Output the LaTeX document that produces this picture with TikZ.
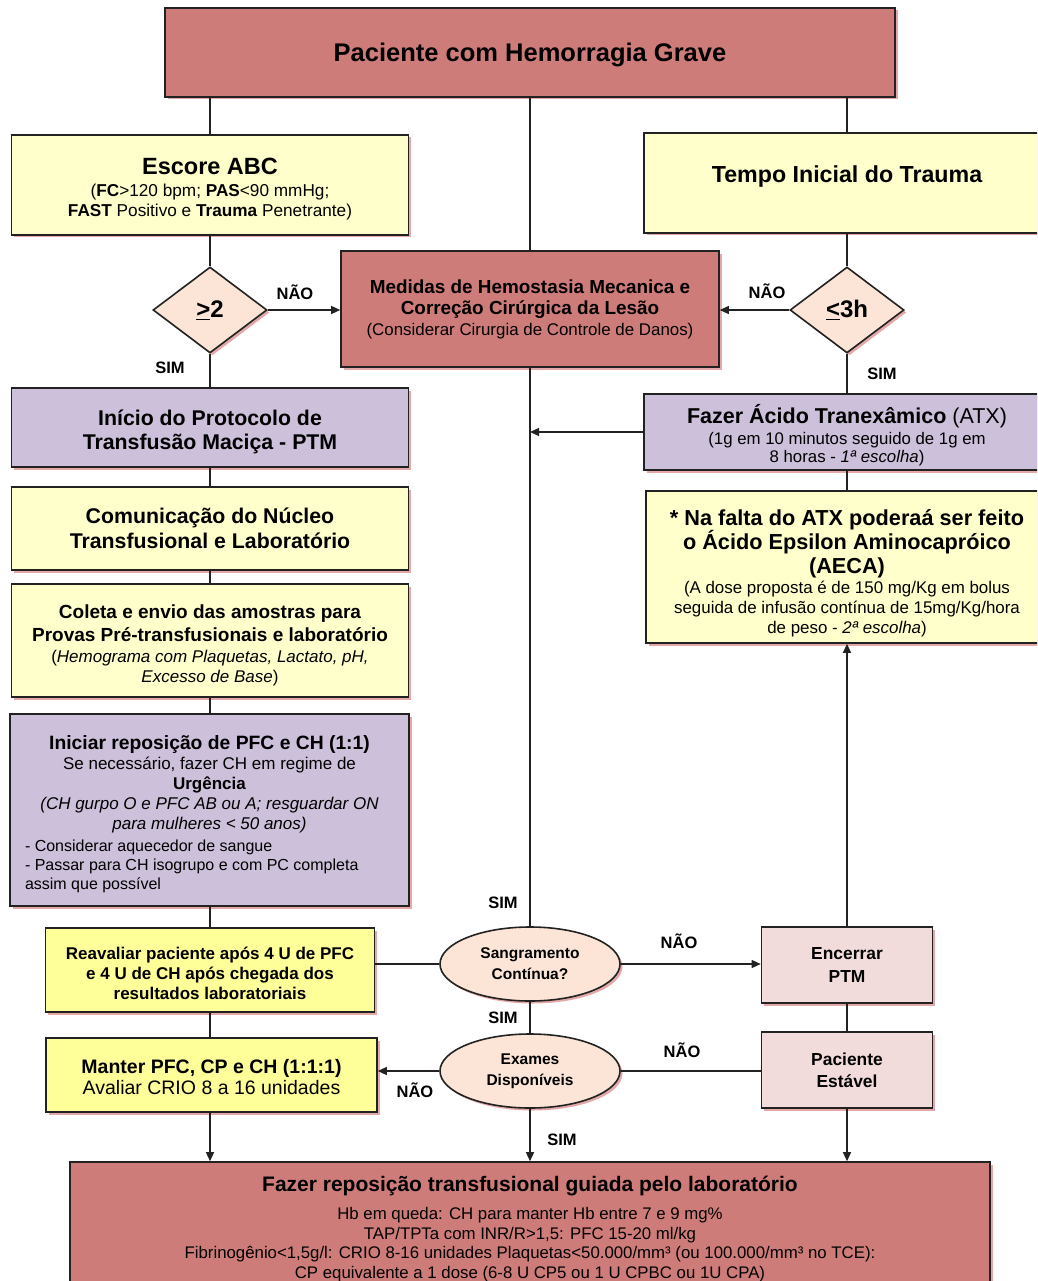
\documentclass[tikz,border=0pt]{standalone}
\usepackage{fontspec}
\setmainfont{Liberation Sans}
\usetikzlibrary{shapes.geometric,arrows.meta,shadows}
\definecolor{salmon}{RGB}{206,124,121}
\definecolor{lyellow}{RGB}{255,255,204}
\definecolor{lavender}{RGB}{204,192,218}
\definecolor{peach}{RGB}{252,229,214}
\definecolor{yellowb}{RGB}{255,255,153}
\definecolor{pinkl}{RGB}{242,220,219}
\definecolor{shadowc}{RGB}{228,168,168}
\definecolor{edge}{RGB}{34,34,34}
\newcommand\myfs[2]{\fontsize{#1}{#2}\selectfont}
\newcommand\topgap[1]{\par\vspace*{\dimexpr#1-12pt\relax}}
\begin{document}
\begin{tikzpicture}[x=1pt,y=-1pt,
  shad/.style={drop shadow={shadow xshift=2.5pt,shadow yshift=-2.5pt,fill=shadowc,opacity=1}},
  box/.style={draw=edge,line width=1.6pt,inner xsep=8pt,inner ysep=3pt,align=flush center,shad},
  dia/.style={diamond,draw=edge,line width=1.6pt,fill=peach,minimum width=114pt,minimum height=86pt,inner sep=0pt,shad},
  ell/.style={ellipse,draw=edge,line width=1.6pt,fill=peach,minimum width=180pt,minimum height=74pt,inner sep=0pt,align=center,font=\myfs{15.5}{21}\bfseries,shad},
  conn/.style={draw=edge,line width=1.3pt},
  arr/.style={conn,-{Triangle[length=9pt,width=8pt]}},
  lbl/.style={font=\myfs{16.5}{18}\bfseries}]
\useasboundingbox (0,0) rectangle (1037,1281);
\clip (0,0) rectangle (1037,1281);
\fill[white] (0,0) rectangle (1037,1281);
\lineskiplimit=-20pt

% top
\node[box,fill=salmon,minimum width=730pt,minimum height=89pt,text width=714pt] (top) at (530,52.5)
  {\topgap{5pt}\myfs{25.5}{30}\bfseries Paciente com Hemorragia Grave\par};

% left column
\node[box,fill=lyellow,minimum width=397pt,minimum height=100pt,text width=381pt] (escore) at (210,185)
  {\topgap{9pt}{\myfs{23.5}{27}\bfseries Escore ABC\par}\vspace{3pt}\myfs{17.2}{19.5}(\textbf{FC}>120 bpm; \textbf{PAS}<90 mmHg;\\ \textbf{FAST} Positivo e \textbf{Trauma} Penetrante)\par};
\node[dia] (d1) at (210,310) {\myfs{24}{28}\bfseries\underline{>}2};
\node[box,fill=lavender,minimum width=397pt,minimum height=79pt,text width=381pt] (inicio) at (210,427.5)
  {\topgap{12pt}\myfs{21.3}{24}\bfseries Início do Protocolo de\\ Transfusão Maciça - PTM\par};
\node[box,fill=lyellow,minimum width=397pt,minimum height=83pt,text width=381pt] (comunic) at (210,528.5)
  {\myfs{21.3}{25}\bfseries Comunicação do Núcleo\\ Transfusional e Laboratório\par};
\node[box,fill=lyellow,minimum width=397pt,minimum height=113pt,text width=381pt] (coleta) at (210,640.5)
  {\topgap{13pt}{\myfs{19}{23}\bfseries Coleta e envio das amostras para\\ Provas Pré-transfusionais e laboratório\par}\vspace{1pt}\myfs{17}{20}(\textit{Hemograma com Plaquetas, Lactato, pH,}\\ \textit{Excesso de Base})\par};
\node[box,fill=lavender,minimum width=399pt,minimum height=192pt,text width=369pt,inner xsep=15pt] (iniciar) at (209.5,810)
  {\topgap{14pt}{\myfs{19.3}{21}\bfseries Iniciar reposição de PFC e CH (1:1)\par}
   {\myfs{17}{20}Se necessário, fazer CH em regime de\\ \textbf{Urgência}\\ \textit{(CH gurpo O e PFC AB ou A; resguardar ON}\\ \textit{para mulheres < 50 anos)}\par}
   \vspace{3pt}
   {\raggedright\myfs{16}{19}- Considerar aquecedor de sangue\\ - Passar para CH isogrupo e com PC completa\\ assim que possível\par}};
\node[box,fill=yellowb,minimum width=329pt,minimum height=84pt,text width=313pt] (reaval) at (210,970)
  {\topgap{11pt}\myfs{17}{20}\bfseries Reavaliar paciente após 4 U de PFC\\ e 4 U de CH após chegada dos\\ resultados laboratoriais\par};
\node[box,fill=yellowb,minimum width=331pt,minimum height=74pt,text width=315pt] (manter) at (211.5,1075)
  {\topgap{9pt}\myfs{19.5}{21}\textbf{Manter PFC, CP e CH (1:1:1)}\\ Avaliar CRIO 8 a 16 unidades\par};

% center
\node[box,fill=salmon,minimum width=378pt,minimum height=116pt,text width=362pt] (medidas) at (530,309)
  {{\myfs{18.9}{21}\bfseries Medidas de Hemostasia Mecanica e\\ Correção Cirúrgica da Lesão\par}\myfs{16.9}{21}(Considerar Cirurgia de Controle de Danos)\par};
\node[ell] (sang) at (530,964) {Sangramento\\ Contínua?};
\node[ell] (exames) at (530,1071) {Exames\\ Disponíveis};

% right column
\node[box,fill=lyellow,minimum width=406pt,minimum height=100pt,text width=390pt,
  label={[yshift=6pt,font=\myfs{23.2}{26}\bfseries]center:Tempo Inicial do Trauma}] (tempo) at (847,183) {};
\node[dia] (d2) at (847,310) {\myfs{24}{28}\bfseries\underline{<}3h};
\node[box,fill=lavender,minimum width=406pt,minimum height=76pt,text width=390pt] (fazer) at (847,432)
  {\topgap{14pt}{\myfs{21.5}{23}\textbf{Fazer Ácido Tranexâmico} (ATX)\par}\vspace{3pt}\myfs{16.8}{18}(1g em 10 minutos seguido de 1g em\\ 8 horas - \textit{1ª escolha})\par};
\node[box,fill=lyellow,minimum width=402pt,minimum height=152pt,text width=386pt] (nafalta) at (847,567)
  {\topgap{17pt}{\myfs{21.7}{24}\bfseries * Na falta do ATX poderaá ser feito\\ o Ácido Epsilon Aminocapróico\\ (AECA)\par}\myfs{16.9}{20}(A dose proposta é de 150 mg/Kg em bolus\\ seguida de infusão contínua de 15mg/Kg/hora\\ de peso - \textit{2ª escolha})\par};
\node[box,fill=pinkl,minimum width=171pt,minimum height=76pt,text width=155pt] (encerrar) at (847,965)
  {\myfs{17.4}{23}\bfseries Encerrar\\ PTM\par};
\node[box,fill=pinkl,minimum width=171pt,minimum height=76pt,text width=155pt] (paciente) at (847,1070)
  {\myfs{17.4}{22}\bfseries Paciente\\ Estável\par};

% bottom
\node[box,fill=salmon,minimum width=920pt,minimum height=128pt,text width=904pt] (bottom) at (530,1226)
  {\topgap{11pt}{\myfs{21}{22}\bfseries Fazer reposição transfusional guiada pelo laboratório\par}\vspace{9pt}
   \myfs{16.8}{19.5}Hb em queda: CH para manter Hb entre 7 e 9 mg\%\\ TAP/TPTa com INR/R>1,5: PFC 15-20 ml/kg\\ Fibrinogênio<1,5g/l: CRIO 8-16 unidades Plaquetas<50.000/mm³ (ou 100.000/mm³ no TCE):\\ CP equivalente a 1 dose (6-8 U CP5 ou 1 U CPBC ou 1U CPA)\par};

% connectors
\draw[conn] (top.south -| escore.north) -- (escore.north);
\draw[conn] (top.south -| tempo.north) -- (tempo.north);
\draw[conn] (top.south) -- (medidas.north);
\draw[conn] (medidas.south) -- (sang.north);
\draw[conn] (escore.south) -- (d1.north);
\draw[arr] (d1.east) -- (d1.east -| medidas.west);
\draw[conn] (d1.south) -- (inicio.north);
\draw[conn] (tempo.south) -- (d2.north);
\draw[arr] (d2.west) -- (d2.west -| medidas.east);
\draw[conn] (d2.south) -- (fazer.north);
\draw[arr] (fazer.west) -- (fazer.west -| sang.north);
\draw[conn] (fazer.south) -- (nafalta.north);
\draw[arr] (encerrar.north) -- (encerrar.north |- nafalta.south);
\draw[conn] (inicio.south) -- (comunic.north);
\draw[conn] (comunic.south) -- (coleta.north);
\draw[conn] (coleta.south) -- (iniciar.north -| coleta.south);
\draw[conn] (iniciar.south -| reaval.north) -- (reaval.north);
\draw[conn] (reaval.south) -- (reaval.south |- manter.north);
\draw[arr] (reaval.south |- manter.south) -- (reaval.south |- bottom.north);
\draw[conn] (reaval.east |- sang.west) -- (sang.west);
\draw[arr] (sang.east) -- (sang.east -| encerrar.west);
\draw[conn] (sang.south) -- (exames.north);
\draw[arr] (exames.west) -- (exames.west -| manter.east);
\draw[conn] (exames.east) -- (exames.east -| paciente.west);
\draw[conn] (encerrar.south) -- (paciente.north);
\draw[arr] (exames.south) -- (exames.south |- bottom.north);
\draw[arr] (paciente.south) -- (paciente.south |- bottom.north);

% labels
\node[lbl] (l1) at (295,292) {NÃO};
\node[lbl] (l2) at (170,368) {SIM};
\node[lbl] (l3) at (767,291) {NÃO};
\node[lbl] (l4) at (882,374) {SIM};
\node[lbl] (l5) at (503,903) {SIM};
\node[lbl] (l6) at (679,941) {NÃO};
\node[lbl] (l7) at (503,1018) {SIM};
\node[lbl] (l8) at (682,1050) {NÃO};
\node[lbl] (l9) at (415,1090) {NÃO};
\node[lbl] (l10) at (562,1140) {SIM};
\end{tikzpicture}
\end{document}
